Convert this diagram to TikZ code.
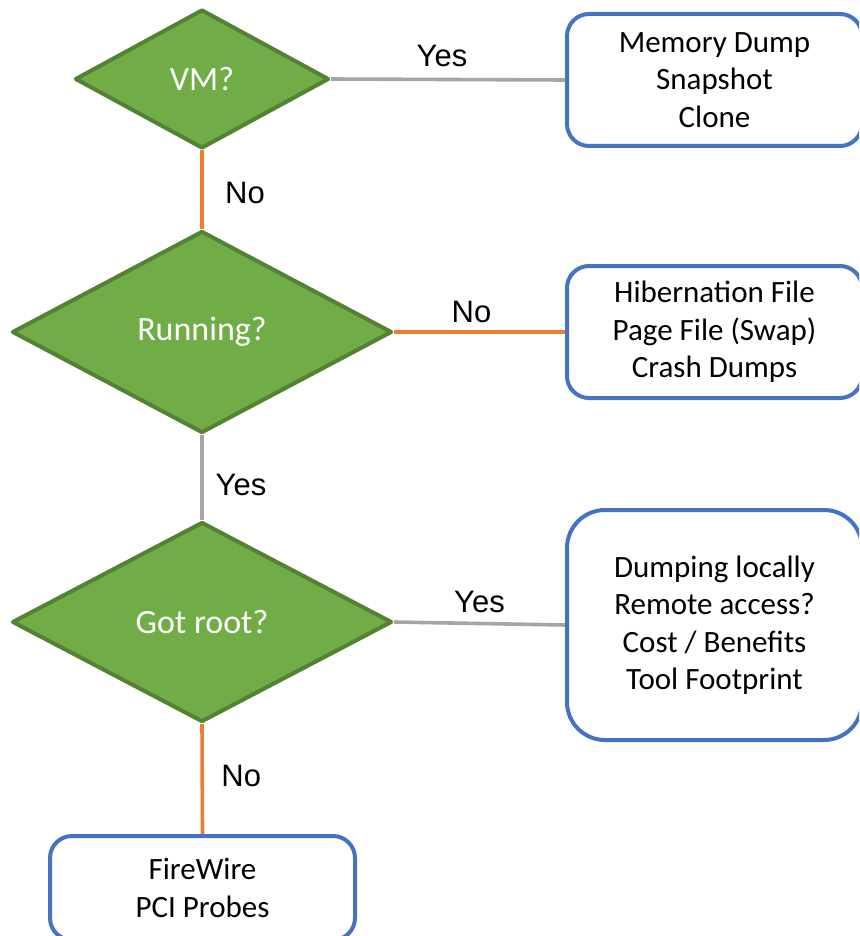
\documentclass[tikz,border=0pt]{standalone}
\usepackage{fontspec}
\setmainfont{Carlito}
\newfontfamily\arialf{Liberation Sans}
\usetikzlibrary{shapes.geometric}
\definecolor{gfill}{HTML}{70AD47}
\definecolor{gdraw}{HTML}{548235}
\definecolor{bdraw}{HTML}{4472C4}
\definecolor{oline}{HTML}{ED7D31}
\definecolor{gline}{HTML}{A5A5A5}
\tikzset{
  decision/.style={diamond, draw=gdraw, fill=gfill, line width=4pt, inner sep=0pt,
    text=white, font=\fontsize{34}{40}\selectfont, line join=round},
  outbox/.style={rectangle, draw=bdraw, fill=white, line width=4pt, inner sep=0pt,
    align=center, font=\fontsize{31}{37.5}\selectfont},
  yesline/.style={draw=gline, line width=3.6pt},
  noline/.style={draw=oline, line width=3.6pt},
  lbl/.style={font=\arialf\fontsize{31}{36}\selectfont, inner sep=0pt, text=black}
}
\begin{document}
\begin{tikzpicture}[x=1pt,y=-1pt]
\useasboundingbox (0,0) rectangle (859,936);
\clip (0,0) rectangle (859,936);
% decisions
\node[decision, minimum width=254pt, minimum height=139pt] (vm) at (202,79) {VM?};
\node[decision, minimum width=380pt, minimum height=202pt] (run) at (202,332) {Running?};
\node[decision, minimum width=380pt, minimum height=200pt] (root) at (202,622) {Got root?};
% outcome boxes
\node[outbox, rounded corners=22pt, minimum width=295pt, minimum height=132pt] (mem) at (714.5,80)
  {Memory Dump\\Snapshot\\Clone};
\node[outbox, rounded corners=22pt, minimum width=295pt, minimum height=132pt] (hib) at (714.5,332)
  {Hibernation File\\Page File (Swap)\\Crash Dumps};
\node[outbox, rounded corners=38pt, minimum width=295pt, minimum height=230pt] (dump) at (714.5,625)
  {Dumping locally\\Remote access?\\Cost / Benefits\\Tool Footprint};
\node[outbox, rounded corners=22pt, minimum width=305pt, minimum height=104pt] (fw) at (202.5,888)
  {FireWire\\PCI Probes};
% connectors
\draw[yesline] (vm.east) -- (mem.west) node[lbl, midway, xshift=-6pt, yshift=24pt] (l1) {Yes};
\draw[noline] (vm.south) -- (run.north) node[lbl, midway, xshift=43pt, yshift=-3pt] (l2) {No};
\draw[noline] (run.east) -- (hib.west) node[lbl, midway, xshift=-8pt, yshift=20pt] (l3) {No};
\draw[yesline] (run.south) -- (root.north) node[lbl, midway, xshift=39pt, yshift=-7pt] (l4) {Yes};
\draw[yesline] (root.east) -- (dump.west) node[lbl, midway, xshift=0pt, yshift=22pt] (l5) {Yes};
\draw[noline] (root.south) -- (fw.north) node[lbl, midway, xshift=39pt, yshift=3pt] (l6) {No};
\end{tikzpicture}
\end{document}
